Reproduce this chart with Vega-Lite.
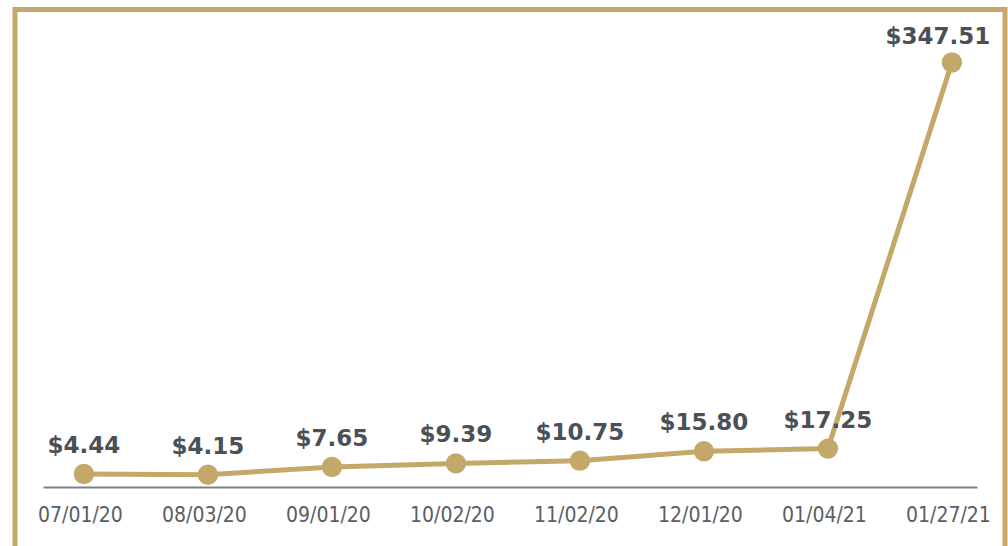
{
  "$schema": "https://vega.github.io/schema/vega-lite/v6.json",
  "width": 990,
  "height": 540,
  "autosize": {"type": "none"},
  "padding": {"left": 15, "top": 9.5, "right": 3, "bottom": -3.5},
  "background": "white",
  "config": {"view": {"stroke": "#C4A86A", "strokeWidth": 5, "fill": "white"}},
  "data": {
    "values": [
      {"date": "07/01/20", "value": 4.44, "label": "$4.44"},
      {"date": "08/03/20", "value": 4.15, "label": "$4.15"},
      {"date": "09/01/20", "value": 7.65, "label": "$7.65"},
      {"date": "10/02/20", "value": 9.39, "label": "$9.39"},
      {"date": "11/02/20", "value": 10.75, "label": "$10.75"},
      {"date": "12/01/20", "value": 15.80, "label": "$15.80"},
      {"date": "01/04/21", "value": 17.25, "label": "$17.25"},
      {"date": "01/27/21", "value": 347.51, "label": "$347.51"}
    ]
  },
  "encoding": {
    "x": {
      "field": "date",
      "type": "ordinal",
      "sort": null,
      "scale": {"type": "point", "range": [28, 962], "padding": 0.266, "align": 0.62},
      "axis": {
        "title": null,
        "grid": false,
        "ticks": false,
        "domainColor": "#7d8086",
        "domainWidth": 2,
        "labelFont": "DejaVu Sans Condensed, Roboto",
        "labelFontWeight": 300,
        "labelFontSize": 21,
        "labelColor": "#5a5e64",
        "labelPadding": 17,
        "labelAngle": 0,
        "labelOffset": -4,
        "offset": -62.5
      }
    },
    "y": {
      "field": "value",
      "type": "quantitative",
      "scale": {"type": "pow", "exponent": 0.8, "domain": [0, 400], "range": [477.5, 2.5]},
      "axis": null
    }
  },
  "layer": [
    {"mark": {"type": "line", "color": "#C4A86A", "strokeWidth": 5}},
    {"mark": {"type": "point", "filled": true, "color": "#C4A86A", "size": 415, "opacity": 1}},
    {
      "transform": [{"filter": "datum.value < 100"}],
      "mark": {"type": "text", "font": "DejaVu Sans", "fontWeight": "bold", "fontSize": 23, "color": "#4b5056", "dy": -21, "baseline": "alphabetic"},
      "encoding": {"text": {"field": "label"}}
    },
    {
      "transform": [{"filter": "datum.value >= 100"}],
      "mark": {"type": "text", "font": "DejaVu Sans", "fontWeight": "bold", "fontSize": 23, "color": "#4b5056", "dy": -19, "dx": -14, "baseline": "alphabetic"},
      "encoding": {"text": {"field": "label"}}
    }
  ]
}
